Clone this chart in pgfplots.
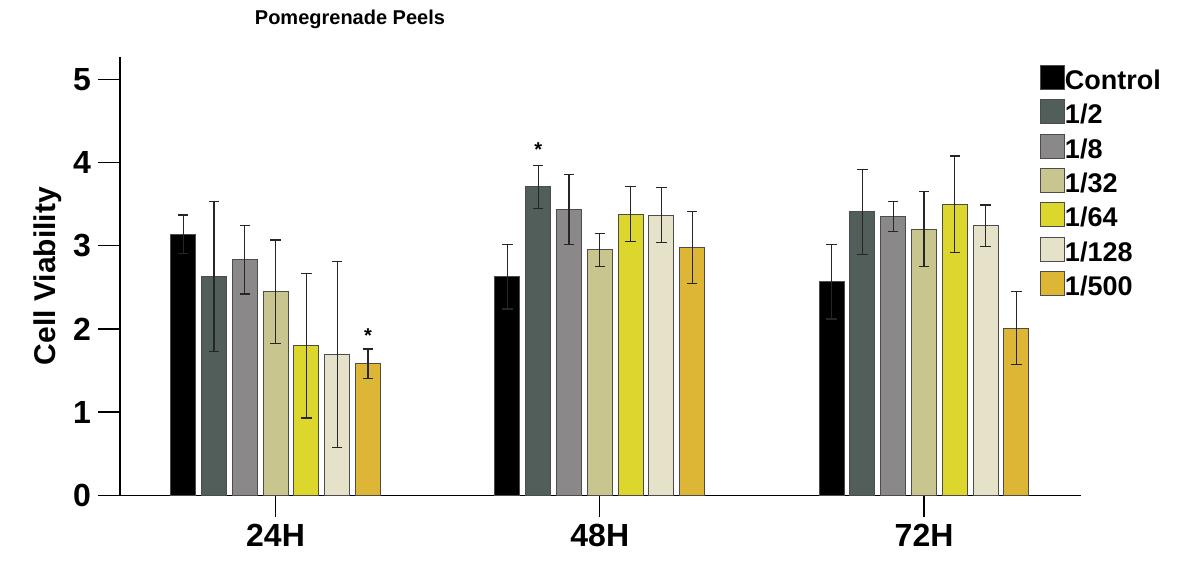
\documentclass[border=0pt]{standalone}
\usepackage{fontspec}
\setmainfont{Liberation Sans}
\usepackage{pgfplots}
\usepackage{pgfplotstable}
\pgfplotsset{compat=1.18}
\definecolor{cA}{RGB}{0,0,0}
\definecolor{cB}{RGB}{82,94,89}
\definecolor{cC}{RGB}{138,136,137}
\definecolor{cD}{RGB}{200,198,142}
\definecolor{cE}{RGB}{221,214,44}
\definecolor{cF}{RGB}{230,225,201}
\definecolor{cG}{RGB}{221,182,53}
\pgfplotstableread{
x y e
0 3.14 0.23
1 2.63 0.39
2 2.57 0.45
}\tControl
\pgfplotstableread{
x y e
0 2.63 0.90
1 3.71 0.26
2 3.41 0.51
}\tHalf
\pgfplotstableread{
x y e
0 2.83 0.41
1 3.44 0.42
2 3.35 0.18
}\tEight
\pgfplotstableread{
x y e
0 2.45 0.62
1 2.95 0.20
2 3.20 0.45
}\tThirtyTwo
\pgfplotstableread{
x y e
0 1.80 0.87
1 3.38 0.33
2 3.50 0.58
}\tSixtyFour
\pgfplotstableread{
x y e
0 1.69 1.12
1 3.37 0.33
2 3.24 0.25
}\tOneTwentyEight
\pgfplotstableread{
x y e
0 1.58 0.18
1 2.98 0.43
2 2.01 0.44
}\tFiveHundred
\begin{document}
\begin{tikzpicture}
\path[use as bounding box] (-60pt,-33.35pt) rectangle (536pt,247.65pt);
\begin{axis}[
  at={(0,0)}, anchor=south west,
  scale only axis, width=480.5pt, height=219.15pt,
  xmin=-0.4796, xmax=2.484, ymin=0, ymax=5.27,
  clip=false,
  axis x line*=bottom, axis y line*=left,
  axis line style={-, line width=0.8pt, black},
  xtick={0,1,2}, xticklabels={24H,48H,72H},
  ytick={0,1,2,3,4,5},
  tick align=outside, major tick length=11pt,
  tick style={line width=0.7pt, black},
  /pgf/number format/assume math mode=true,
  ticklabel style={font=\fontsize{16}{16}\selectfont\bfseries},
  ylabel={Cell Viability},
  ylabel style={at={(axis description cs:-0.0604,0.5)}, anchor=south, inner sep=0pt, font=\fontsize{15}{15}\selectfont\bfseries},
  ybar=2.9pt, bar width=12.5pt,
  legend cell align=left,
  legend image code/.code={\draw[#1, line width=0.5pt] (0pt,0pt) rectangle (12pt,12pt);},
  legend style={at={(rel axis cs:0.9573,0.9817)}, anchor=north west, draw=none, fill=none,
    inner sep=0pt, outer sep=0pt, row sep=3.4pt,
    font=\fontsize{13.5}{13.5}\selectfont\bfseries,
    nodes={inner sep=0pt, outer sep=0pt, anchor=base west, xshift=3pt}},
  every axis plot/.append style={draw=black!70, line width=0.5pt,
    error bars/y dir=both, error bars/y explicit,
    error bars/error bar style={line width=0.6pt, black!85},
    error bars/error mark options={rotate=90, mark size=2.6pt, line width=0.6pt, black!85}},
]
\addplot[fill=cA] table[x=x, y=y, y error=e] {\tControl};
\addplot[fill=cB] table[x=x, y=y, y error=e] {\tHalf};
\addplot[fill=cC] table[x=x, y=y, y error=e] {\tEight};
\addplot[fill=cD] table[x=x, y=y, y error=e] {\tThirtyTwo};
\addplot[fill=cE] table[x=x, y=y, y error=e] {\tSixtyFour};
\addplot[fill=cF] table[x=x, y=y, y error=e] {\tOneTwentyEight};
\addplot[fill=cG] table[x=x, y=y, y error=e] {\tFiveHundred};
\legend{Control,1/2,1/8,1/32,1/64,1/128,1/500}
\node[anchor=base, inner sep=0pt, font=\fontsize{10}{10}\selectfont\bfseries] at ([xshift=46.2pt]axis cs:0,1.835) {*};
\node[anchor=base, inner sep=0pt, font=\fontsize{10}{10}\selectfont\bfseries] at ([xshift=-30.8pt]axis cs:1,4.07) {*};
\node[anchor=base, inner sep=0pt, font=\fontsize{10}{10}\selectfont\bfseries] at (rel axis cs:0.2393,1.073) {Pomegrenade Peels};
\end{axis}
\end{tikzpicture}
\end{document}
